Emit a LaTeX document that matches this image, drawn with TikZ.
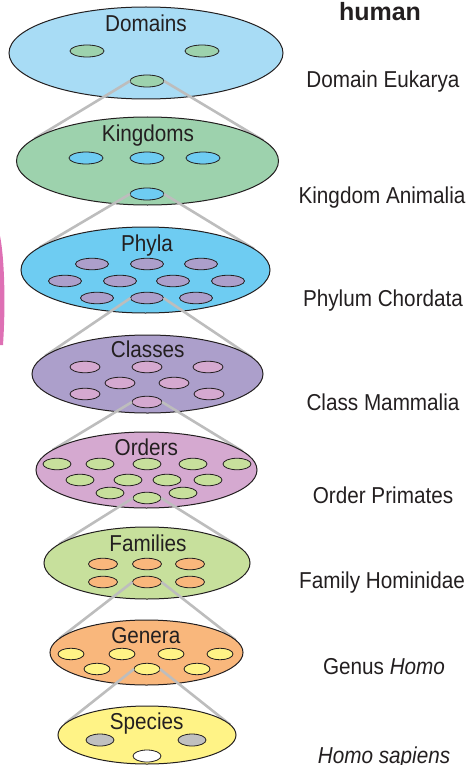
\documentclass[tikz,border=0pt]{standalone}
\usepackage{fontspec}
\setmainfont{Liberation Sans}[FakeStretch=0.9]
\newfontfamily\headfont{Liberation Sans}
\usetikzlibrary{shapes.geometric}

\definecolor{ink}{HTML}{231F20}
\definecolor{linkgray}{HTML}{BDBDBD}
\definecolor{domblue}{HTML}{A8DCF5}
\definecolor{kingreen}{HTML}{9DD2AD}
\definecolor{phyblue}{HTML}{6ECCF2}
\definecolor{clapurple}{HTML}{AC9FCB}
\definecolor{ordpink}{HTML}{D5A9D0}
\definecolor{famgreen}{HTML}{C7E09C}
\definecolor{genorange}{HTML}{F9B77C}
\definecolor{speyellow}{HTML}{FFF386}
\definecolor{spegray}{HTML}{C0C0C0}
\definecolor{edgepink}{HTML}{DE70B4}

\tikzset{
  rank/.style={ellipse, draw=ink, line width=1pt, inner sep=0pt, outer sep=0pt},
  taxon/.style={ellipse, draw=ink, line width=0.8pt, inner sep=0pt, outer sep=0pt,
    minimum width=#1, minimum height=11.5pt},
  taxon/.default=30pt,
  link/.style={draw=linkgray, line width=2.6pt},
  lbl/.style={anchor=base, inner sep=0pt, text=ink, font=\fontsize{23}{27}\selectfont},
}

\begin{document}
\begin{tikzpicture}[x=1pt, y=-1pt]
\useasboundingbox (0,0) rectangle (469,765);

% piece of a pink shape cut by the left edge
\fill[edgepink] (0,236) .. controls (4,255) and (6,300) .. (3,345) -- (0,345) -- cycle;

% where the ranks sit (drawn further down)
\foreach \nm/\x/\y/\w/\h in {dom/146/53/274/92, kin/147.5/161/262/88, phy/145.5/270/249/86,
  cla/147.5/374/231/78, ord/146.5/470/221/76, fam/147/563/206/72,
  gen/146.5/652.5/193/65, spe/147/735/178/58}{
\path (\x,\y) node[rank, draw=none, minimum width=\w pt, minimum height=\h pt] (\nm) {};
}

% Domains
\node[rank, fill=domblue, minimum width=274pt, minimum height=92pt] (dom) at (dom) {};
\node[lbl] (domlbl) at (146,31.7) {Domains};
\foreach \i/\x/\y in {1/87/51, 2/202/51, 3/147/81}
  \node[taxon=34pt, minimum height=12pt, fill=kingreen] (dom\i) at (\x,\y) {};
\draw[link] (dom3.west) -- (kin.169.4);
\draw[link] (dom3.east) -- (kin.10.7);

% Kingdoms
\node[rank, fill=kingreen, minimum width=262pt, minimum height=88pt] (kin) at (kin) {};
\node[lbl] (kinlbl) at (148,141.7) {Kingdoms};
\foreach \i/\x/\y in {1/86/158, 2/147/158, 3/203/158, 4/147/194}
  \node[taxon=34pt, minimum height=12pt, fill=phyblue] (kin\i) at (\x,\y) {};
\draw[link] (kin4.west) -- (phy.168.5);
\draw[link] (kin4.east) -- (phy.11.1);

% Phyla
\node[rank, fill=phyblue, minimum width=249pt, minimum height=86pt] (phy) at (phy) {};
\node[lbl] (phylbl) at (147,251.7) {Phyla};
\foreach \i/\x/\y in {1/92/264, 2/147/264, 3/201/264, 4/65/281, 5/120/281, 6/173/281,
  7/228/281, 8/97/298, 9/147/298, 10/196/298}
  \node[taxon=33pt, fill=clapurple] (phy\i) at (\x,\y) {};
\draw[link] (phy9.west) -- (cla.170.4);
\draw[link] (phy9.east) -- (cla.9.6);

% Classes
\node[rank, fill=clapurple, minimum width=231pt, minimum height=78pt] (cla) at (cla) {};
\node[lbl] (clalbl) at (147.7,357.7) {Classes};
\foreach \i/\x/\y in {1/85/367, 2/147/367, 3/208/367, 4/120/383, 5/174/383,
  6/85/394, 7/209/394, 8/147/402}
  \node[taxon, fill=ordpink] (cla\i) at (\x,\y) {};
\draw[link] (cla8.west) -- (ord.168.9);
\draw[link] (cla8.east) -- (ord.11);

% Orders
\node[rank, fill=ordpink, minimum width=221pt, minimum height=76pt] (ord) at (ord) {};
\node[lbl] (ordlbl) at (146.3,455) {Orders};
\foreach \i/\x/\y in {1/57/464, 2/100/464, 3/147/464, 4/193/464, 5/237/464,
  6/80/480, 7/128/480, 8/167/480, 9/208/480, 10/110/493, 11/183/493, 12/147/498}
  \node[taxon=28pt, fill=famgreen] (ord\i) at (\x,\y) {};
\draw[link] (ord12.west) -- (fam.168.9);
\draw[link] (ord12.east) -- (fam.11.1);

% Families
\node[rank, fill=famgreen, minimum width=206pt, minimum height=72pt] (fam) at (fam) {};
\node[lbl] (famlbl) at (148,551.7) {Families};
\foreach \i/\x/\y in {1/103/564, 2/147/564, 3/190/564, 4/103/582, 5/147/582, 6/190/582}
  \node[taxon=29pt, fill=genorange] (fam\i) at (\x,\y) {};
\draw[link] (fam5.west) -- (gen.171.6);
\draw[link] (fam5.east) -- (gen.8.4);

% Genera
\node[rank, fill=genorange, minimum width=193pt, minimum height=65pt] (gen) at (gen) {};
\node[lbl] (genlbl) at (145.8,643.3) {Genera};
\foreach \i/\x/\y in {1/71/654, 2/122/654, 3/171/654, 4/220/654, 5/97/669, 6/147/669, 7/197/669}
  \node[taxon=26pt, fill=speyellow] (gen\i) at (\x,\y) {};
\draw[link] (gen6.west) -- (spe.172.4);
\draw[link] (gen6.east) -- (spe.7.6);

% Species
\node[rank, fill=speyellow, minimum width=178pt, minimum height=58pt] (spe) at (spe) {};
\node[lbl] (spelbl) at (146.7,729) {Species};
\node[taxon=28pt, minimum height=12pt, fill=spegray] (spe1) at (100,740) {};
\node[taxon=28pt, minimum height=12pt, fill=spegray] (spe2) at (192,740) {};
\node[taxon=28pt, minimum height=12pt, fill=white] (spe3) at (147,756) {};

% the human, rank by rank
\node[anchor=base, inner sep=0pt, text=ink, font=\headfont\bfseries\fontsize{25}{30}\selectfont] (human) at (380,21) {human};
\node[lbl] (eukarya) at (383,87.3) {Domain Eukarya};
\node[lbl] (animalia) at (382,203.3) {Kingdom Animalia};
\node[lbl] (chordata) at (383,306.7) {Phylum Chordata};
\node[lbl] (mammalia) at (383,410.7) {Class Mammalia};
\node[lbl] (primates) at (383,503.3) {Order Primates};
\node[lbl] (hominidae) at (382,588.3) {Family Hominidae};
\node[lbl] (homo) at (384,674) {Genus \textit{Homo}};
\node[lbl] (sapiens) at (384,763.3) {\textit{Homo sapiens}};
\end{tikzpicture}
\end{document}
